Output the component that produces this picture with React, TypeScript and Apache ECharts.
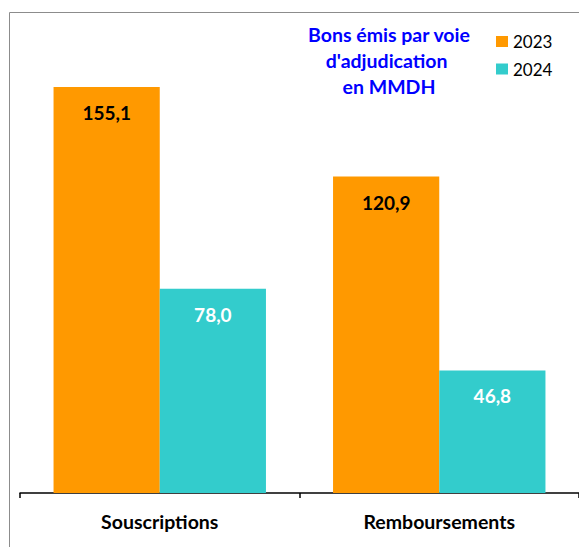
import React, { useEffect, useRef } from "react";
import * as echarts from "echarts";

const categories = ["Souscriptions", "Remboursements"];
const values2023 = [155.1, 120.9];
const values2024 = [78.0, 46.8];
const seriesNames = ["2023", "2024"];
const titleLines = ["Bons émis par voie", "d'adjudication ", "en MMDH"];

const FONT = "Lato, 'Liberation Sans', sans-serif";
const fmt = (v: number) => v.toFixed(1).replace(".", ",");

export default function App() {
  const ref = useRef<HTMLDivElement>(null);
  useEffect(() => {
    if (!ref.current) return;
    const chart = echarts.init(ref.current, undefined, { renderer: "svg" });
    chart.setOption({
      animation: false,
      backgroundColor: "#ffffff",
      grid: { left: 20, width: 562, top: 21.8, bottom: 54, containLabel: false },
      legend: {
        orient: "vertical",
        left: 496,
        top: 32,
        padding: 0,
        itemWidth: 12,
        itemHeight: 11,
        itemGap: 8.5,
        icon: "rect",
        textStyle: { fontFamily: FONT, fontSize: 17, color: "#000", lineHeight: 19 },
        data: seriesNames,
      },
      xAxis: {
        type: "category",
        data: categories,
        axisLine: { lineStyle: { color: "#000", width: 1.5 } },
        axisTick: { show: true, length: 5, lineStyle: { color: "#000", width: 1.5 } },
        axisLabel: {
          margin: 18,
          fontFamily: FONT,
          fontSize: 19.5,
          fontWeight: "bold",
          color: "#000",
        },
      },
      yAxis: { type: "value", min: 0, max: 180, show: false },
      graphic: [
        {
          type: "rect",
          shape: { x: 9.5, y: 12.5, width: 620, height: 600 },
          style: { fill: "none", stroke: "#8c8c8c", lineWidth: 1 },
          silent: true,
        },
        {
          type: "text",
          x: 389,
          y: 21,
          style: {
            text: titleLines.join("\n"),
            textAlign: "center",
            textVerticalAlign: "top",
            fill: "#0000FF",
            font: `bold 19.5px ${FONT}`,
            lineHeight: 26,
          },
        },
      ],
      series: [
        {
          name: seriesNames[0],
          type: "bar",
          data: values2023,
          barGap: "0%",
          barCategoryGap: "24%",
          itemStyle: { color: "#FF9900" },
          label: {
            show: true,
            position: "insideTop",
            distance: 16,
            formatter: (p: any) => fmt(p.value),
            fontFamily: FONT,
            fontSize: 19,
            fontWeight: "bold",
            color: "#000",
          },
        },
        {
          name: seriesNames[1],
          type: "bar",
          data: values2024,
          barGap: "0%",
          barCategoryGap: "24%",
          itemStyle: { color: "#33CCCC" },
          label: {
            show: true,
            position: "insideTop",
            distance: 16,
            formatter: (p: any) => fmt(p.value),
            fontFamily: FONT,
            fontSize: 19,
            fontWeight: "bold",
            color: "#fff",
          },
        },
      ],
    });
    return () => chart.dispose();
  }, []);
  return (
    <div
      ref={ref}
      style={{ position: "absolute", left: 0, top: 0, width: 579, height: 547 }}
    />
  );
}
